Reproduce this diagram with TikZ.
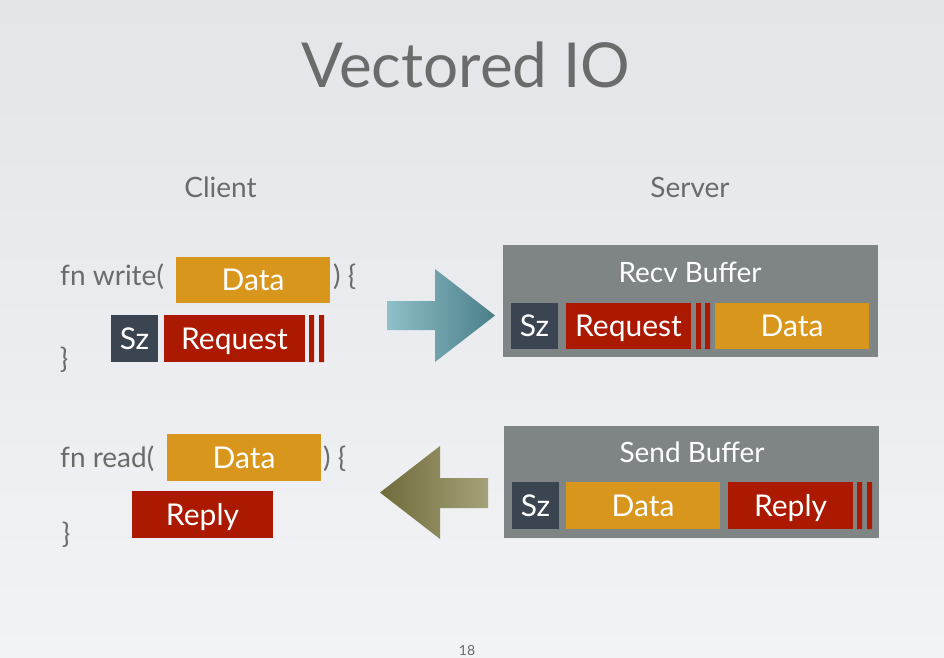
\documentclass[tikz,border=0pt]{standalone}
\usepackage{fontspec}
\setmainfont{Lato}

\definecolor{slidegray}{HTML}{6B6B6B}
\definecolor{slidetop}{HTML}{E3E5E9}
\definecolor{slidebottom}{HTML}{F2F3F5}
\definecolor{fieldorange}{HTML}{D8961D}
\definecolor{fieldred}{HTML}{AB1900}
\definecolor{fieldslate}{HTML}{3B4552}
\definecolor{bufgray}{HTML}{7F8585}
\definecolor{sendlight}{HTML}{8FBFC9}
\definecolor{senddark}{HTML}{4A7F89}
\definecolor{recvdark}{HTML}{6F6B3B}
\definecolor{recvlight}{HTML}{A5A27A}

\tikzset{
  field/.style={rectangle, inner sep=0pt, text=white,
    font=\fontsize{30}{32}\selectfont, text height=21pt, text depth=0pt},
  datafield/.style={field, fill=fieldorange},
  redfield/.style={field, fill=fieldred},
  szfield/.style={field, fill=fieldslate},
  bufbox/.style={rectangle, fill=bufgray, inner sep=0pt,
    minimum width=375pt, minimum height=112pt},
  buflabel/.style={text=white, font=\fontsize{28}{30}\selectfont,
    inner sep=0pt, anchor=base},
  code/.style={text=slidegray, font=\fontsize{28}{30}\selectfont, inner sep=0pt},
}

\begin{document}
\begin{tikzpicture}[x=1pt, y=-1pt]

% background
    \shade[top color=slidetop, bottom color=slidebottom]
        (0,0) rectangle (944,657);
    \useasboundingbox (0,0) rectangle (944,657);

% title and headings
    \node[text=slidegray, font=\fontsize{62}{70}\selectfont, inner sep=0pt,
        anchor=base] (title) at (466,87) {Vectored IO};
    \node[code, anchor=base] (client) at (220.5,197) {Client};
    \node[code, anchor=base] (server) at (690,197) {Server};

% write call
    \node[code, anchor=base west] (wcall) at (60,285) {fn write(};
    \node[code, anchor=base west] (wopen) at (333,285) {) \{};
    \node[code] (wclose) at (64,360) {\}};
    \node[datafield, minimum width=154pt, minimum height=46pt] (wdata)
        at (253,280) {Data};
    \node[szfield, minimum width=47pt, minimum height=47pt] (wsz)
        at (134.5,338.5) {Sz};
    \node[redfield, minimum width=141pt, minimum height=47pt] (wreq)
        at (234.5,338.5) {Request};
    \fill[fieldred] (309,315) rectangle (314,362)
                    (319,315) rectangle (324,362);

% read call
    \node[code, anchor=base west] (rcall) at (60,467) {fn read(};
    \node[code, anchor=base west] (ropen) at (323,467) {) \{};
    \node[code] (rclose) at (66,535) {\}};
    \node[datafield, minimum width=154pt, minimum height=47pt] (rdata)
        at (244,457.5) {Data};
    \node[redfield, minimum width=141pt, minimum height=47pt] (rreply)
        at (202.5,514.5) {Reply};

% recv buffer
    \node[bufbox] (recv) at (690.5,301) {};
    \node[buflabel] (recvname) at (690,282) {Recv Buffer};
    \node[szfield, minimum width=47pt, minimum height=46pt] (bsz)
        at (534.5,326) {Sz};
    \node[redfield, minimum width=125pt, minimum height=46pt] (breq)
        at (628.5,326) {Request};
    \fill[fieldred] (696,303) rectangle (701,349)
                    (705,303) rectangle (710,349);
    \node[datafield, minimum width=154pt, minimum height=46pt] (bdata)
        at (792,326) {Data};

% send buffer
    \node[bufbox] (send) at (691.5,482) {};
    \node[buflabel] (sendname) at (692,462) {Send Buffer};
    \node[szfield, minimum width=47pt, minimum height=47pt] (ssz)
        at (535.5,505.5) {Sz};
    \node[datafield, minimum width=154pt, minimum height=47pt] (sdata)
        at (643,505.5) {Data};
    \node[redfield, minimum width=125pt, minimum height=47pt] (sreply)
        at (790.5,505.5) {Reply};
    \fill[fieldred] (857,482) rectangle (862,529)
                    (867,482) rectangle (872,529);

% block arrows
    \shade[left color=sendlight, right color=senddark]
        (387,301) -- (435,301) -- (435,269) -- (495,315.5)
        -- (435,362) -- (435,330) -- (387,330) -- cycle;
    \shade[left color=recvdark, right color=recvlight]
        (488,478) -- (440,478) -- (440,446) -- (380,492.5)
        -- (440,539) -- (440,508) -- (488,508) -- cycle;

% page number
    \node[text=slidegray, font=\fontsize{14}{16}\selectfont, inner sep=0pt,
        anchor=base] (pagenum) at (467,655) {18};

\end{tikzpicture}
\end{document}
